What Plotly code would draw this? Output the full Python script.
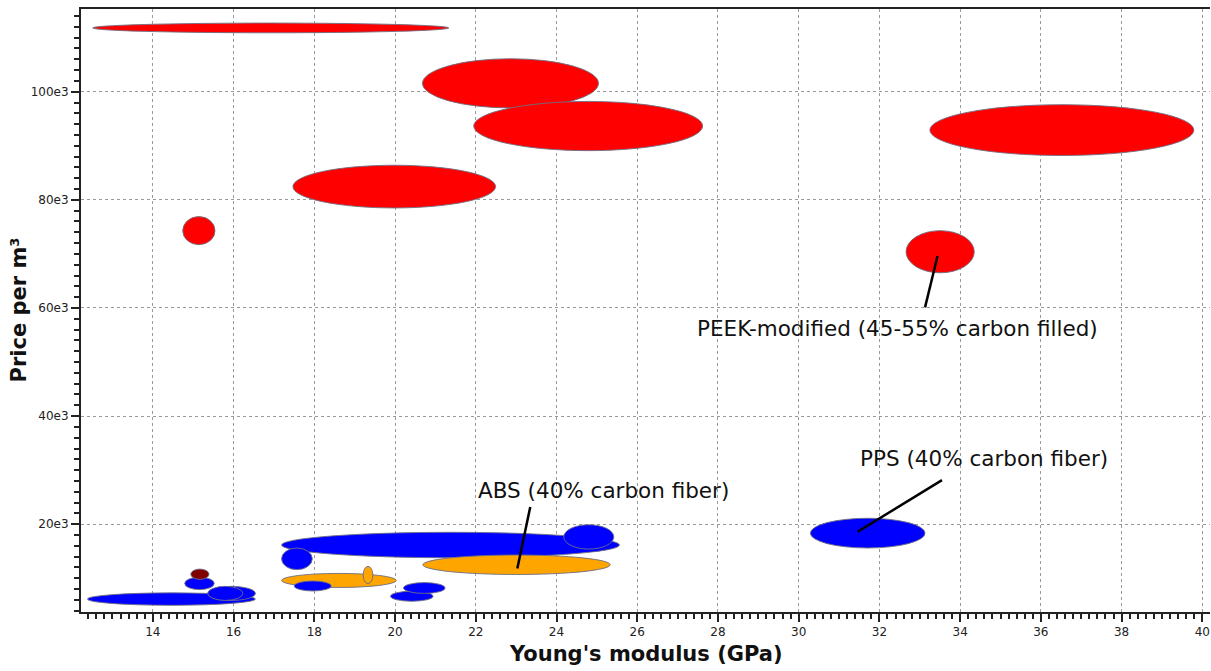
import plotly.graph_objects as go

# Material property ranges: Young's modulus (GPa) and price per m^3
materials = [
    "PEEK (CF, high)", "PEEK (CF, 30%)", "PEEK (CF)", "PEEK (CF, 40%)", "PEEK (CF, 60%)",
    "PEEK-modified (45-55% carbon filled)", "PEI (CF)", "PA (CF)",
    "PA66 (CF)", "PC (CF)", "PBT (CF)", "PBT (CF, 30%)", "PET (CF)", "PA6 (CF)",
    "PPA (CF)", "PA12 (CF)", "POM (CF)", "PA (CF, 35%)", "PPS (40% carbon fiber)",
    "ABS (40% carbon fiber)", "ABS (CF)", "ABS (CF, 20%)",
]
family = [
    "red", "red", "red", "red", "red", "red", "red", "darkred",
    "blue", "blue", "blue", "blue", "blue", "blue", "blue", "blue", "blue", "blue",
    "blue", "orange", "orange", "orange",
]
e_lo = [12.51, 20.68, 21.95, 17.47, 33.25, 32.66, 14.74, 14.94,
        12.38, 14.79, 15.36, 15.36, 17.19, 17.19, 24.18, 17.50, 19.89, 20.21,
        30.29, 20.69, 17.19, 19.21]
e_hi = [21.33, 25.04, 27.62, 22.49, 39.79, 34.35, 15.54, 15.39,
        16.54, 15.52, 16.54, 16.23, 25.56, 17.95, 25.42, 18.42, 20.94, 21.24,
        33.13, 25.33, 20.03, 19.45]
p_lo = [110.9e3, 97.0e3, 89.1e3, 78.5e3, 88.2e3, 66.5e3, 71.7e3, 9.8e3,
        5.0e3, 7.9e3, 5.9e3, 5.9e3, 13.8e3, 11.6e3, 15.4e3, 7.65e3, 5.75e3, 7.2e3,
        15.6e3, 10.7e3, 8.3e3, 9.0e3]
p_hi = [112.7e3, 106.1e3, 98.2e3, 86.4e3, 97.6e3, 74.3e3, 76.9e3, 11.7e3,
        7.3e3, 10.2e3, 8.5e3, 8.5e3, 18.5e3, 15.6e3, 19.9e3, 9.5e3, 7.6e3, 9.2e3,
        21.1e3, 14.3e3, 10.9e3, 12.2e3]

# drawing order (later on top)
draw_order = [0, 1, 2, 3, 4, 5, 6, 8, 10, 11, 9, 7, 12, 13, 14, 20, 15, 21, 16, 17, 19, 18]

y_ticks = [20e3, 40e3, 60e3, 80e3, 100e3]
y_tick_labels = ["20e3", "40e3", "60e3", "80e3", "100e3"]

# labels: text, text position, leader line (from, to)
label_text = ["PEEK-modified (45-55% carbon filled)", "ABS (40% carbon fiber)", "PPS (40% carbon fiber)"]
label_x = [32.44, 25.16, 34.59]
label_y = [56.2e3, 26.3e3, 32.2e3]
line_x0 = [33.44, 23.35, 33.55]
line_y0 = [69.6e3, 23.2e3, 28.15e3]
line_x1 = [33.13, 23.03, 31.46]
line_y1 = [60.1e3, 11.8e3, 18.6e3]

colors = {"red": "#ff0000", "darkred": "#800000", "blue": "#0000ff", "orange": "#ffa500"}
FONT = "DejaVu Sans, Verdana, sans-serif"

fig = go.Figure()
# invisible anchor trace so hover works on centres
fig.add_trace(go.Scatter(
    x=[(a + b) / 2 for a, b in zip(e_lo, e_hi)],
    y=[(a + b) / 2 for a, b in zip(p_lo, p_hi)],
    text=materials, mode="markers", marker=dict(opacity=0),
    hoverinfo="text", showlegend=False,
))

for i in draw_order:
    fig.add_shape(
        type="circle", xref="x", yref="y",
        x0=e_lo[i], x1=e_hi[i], y0=p_lo[i], y1=p_hi[i],
        fillcolor=colors[family[i]],
        line=dict(color="rgba(110,110,130,0.9)", width=1),
        layer="above",
    )

for i in range(len(label_text)):
    fig.add_shape(
        type="line", xref="x", yref="y",
        x0=line_x0[i], y0=line_y0[i], x1=line_x1[i], y1=line_y1[i],
        line=dict(color="black", width=2.5), layer="above",
    )
    fig.add_annotation(
        x=label_x[i], y=label_y[i], text=label_text[i], showarrow=False,
        font=dict(size=21.5, color="#111"),
    )

# axis titles as paper annotations (exact placement)
fig.add_annotation(
    xref="paper", yref="paper", x=0.5, y=-0.0697, yanchor="middle",
    text="<b>Young's modulus (GPa)</b>", showarrow=False,
    font=dict(size=21, color="#111"),
)
fig.add_annotation(
    xref="paper", yref="paper", x=-0.0558, y=0.5, xanchor="center",
    text="<b>Price per m³</b>", textangle=-90, showarrow=False,
    font=dict(size=21, color="#111"),
)

axis_common = dict(
    showline=True, linecolor="#222", linewidth=2,
    ticks="outside", ticklen=8, tickwidth=1.5, tickcolor="#222",
    showgrid=True, gridcolor="#9a9a9a", gridwidth=1, griddash="dot",
    zeroline=False, automargin=False,
    tickfont=dict(size=12, color="#222"),
)

fig.update_xaxes(
    **axis_common,
    range=[12.22, 40.19], dtick=2, tick0=0, mirror=True,
    ticklabeloverflow="allow",
    minor=dict(ticks="outside", ticklen=5, tickwidth=1.5, tickcolor="#222", dtick=0.2, tick0=0, showgrid=False),
)
fig.update_yaxes(
    **axis_common,
    range=[3.76e3, 115.3e3], tickvals=y_ticks, ticktext=y_tick_labels,
    minor=dict(ticks="outside", ticklen=5, tickwidth=1.5, tickcolor="#222", dtick=2000, tick0=0, showgrid=False),
)

fig.update_layout(
    width=1211, height=671,
    margin=dict(l=81, r=1, t=9, b=59),
    plot_bgcolor="white", paper_bgcolor="white",
    font=dict(family=FONT),
    showlegend=False,
)

# drop the default 8px page margin so the figure fills the window exactly
fig.write_html(
    "out.html",
    config={"displayModeBar": False},
    post_script="document.body.style.margin='0';document.body.style.overflow='hidden';",
)
